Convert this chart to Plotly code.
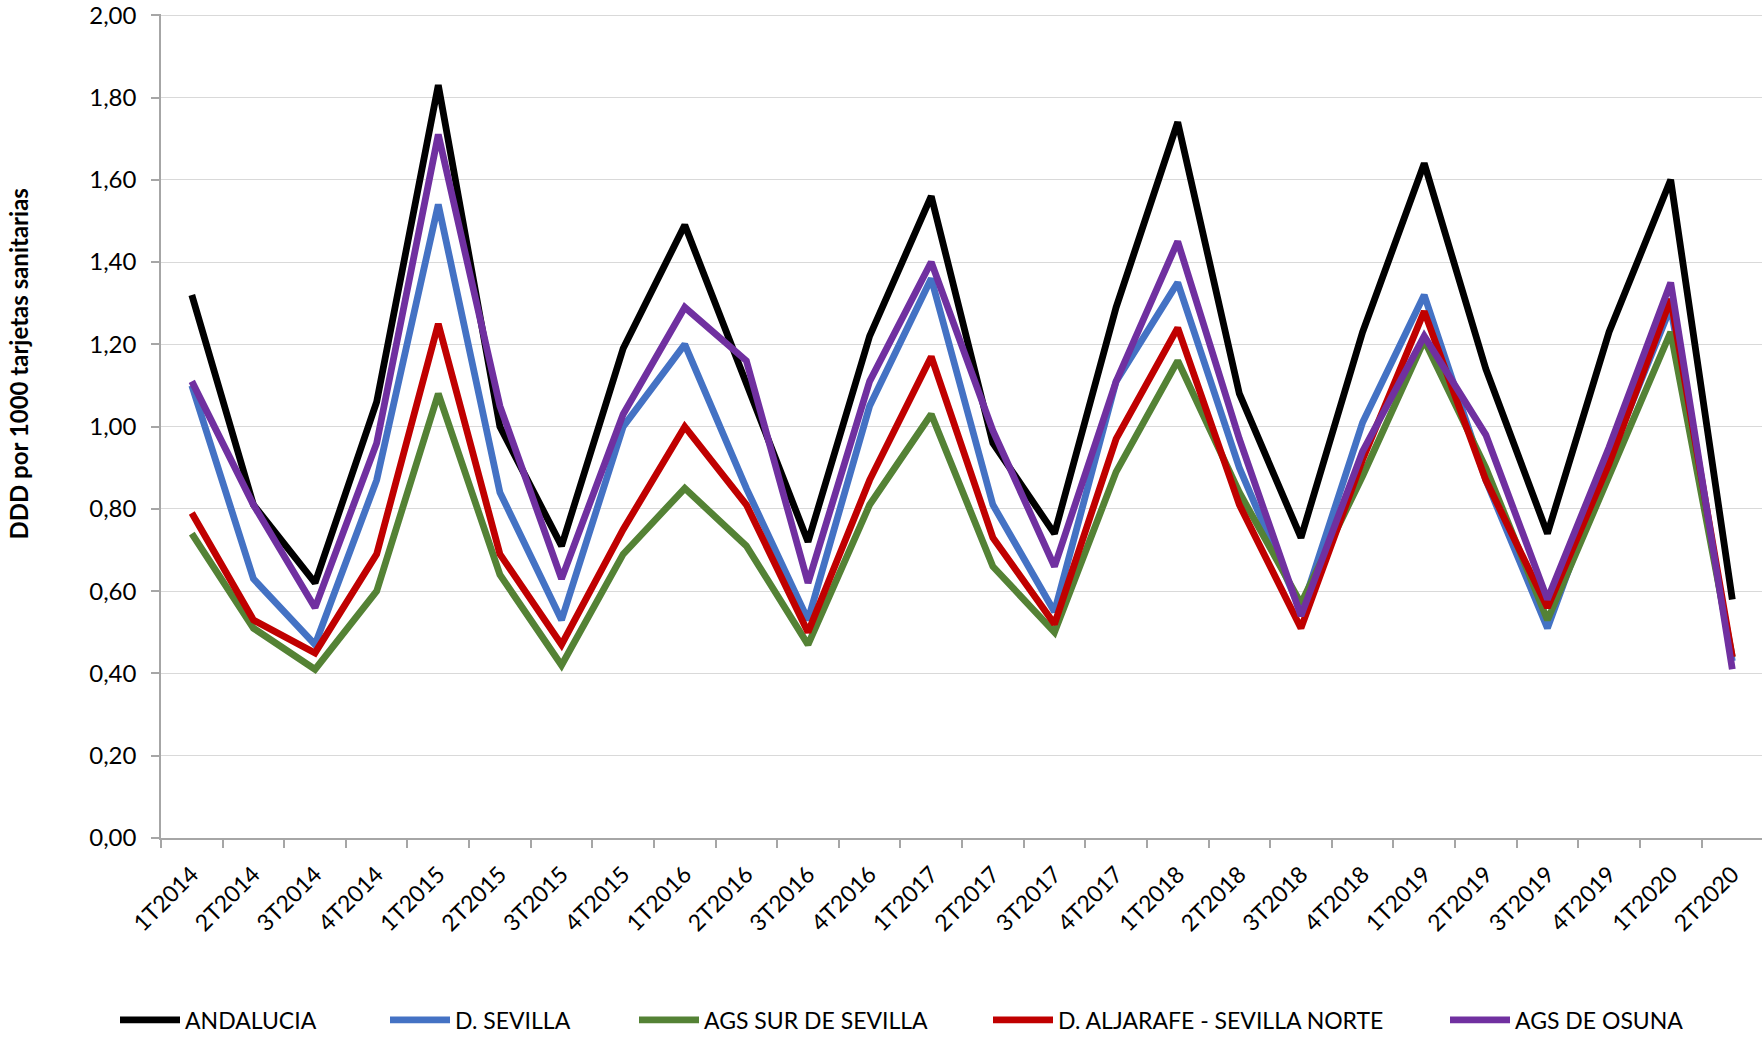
import plotly.graph_objects as go

categories = ["1T2014", "2T2014", "3T2014", "4T2014", "1T2015", "2T2015", "3T2015", "4T2015",
              "1T2016", "2T2016", "3T2016", "4T2016", "1T2017", "2T2017", "3T2017", "4T2017",
              "1T2018", "2T2018", "3T2018", "4T2018", "1T2019", "2T2019", "3T2019", "4T2019",
              "1T2020", "2T2020"]

andalucia = [1.32, 0.81, 0.62, 1.06, 1.83, 1.00, 0.71, 1.19, 1.49, 1.10, 0.72, 1.22, 1.56,
             0.96, 0.74, 1.29, 1.74, 1.08, 0.73, 1.23, 1.64, 1.14, 0.74, 1.23, 1.60, 0.58]
d_sevilla = [1.10, 0.63, 0.47, 0.87, 1.54, 0.84, 0.53, 1.00, 1.20, 0.85, 0.53, 1.05, 1.36,
             0.81, 0.55, 1.11, 1.35, 0.90, 0.55, 1.01, 1.32, 0.87, 0.51, 0.92, 1.29, 0.43]
ags_sur = [0.74, 0.51, 0.41, 0.60, 1.08, 0.64, 0.42, 0.69, 0.85, 0.71, 0.47, 0.81, 1.03,
           0.66, 0.50, 0.89, 1.16, 0.84, 0.57, 0.88, 1.21, 0.90, 0.53, 0.88, 1.23, 0.44]
d_aljarafe = [0.79, 0.53, 0.45, 0.69, 1.25, 0.69, 0.47, 0.75, 1.00, 0.81, 0.50, 0.87, 1.17,
              0.73, 0.52, 0.97, 1.24, 0.81, 0.51, 0.92, 1.28, 0.87, 0.56, 0.91, 1.31, 0.44]
ags_osuna = [1.11, 0.81, 0.56, 0.96, 1.71, 1.05, 0.63, 1.03, 1.29, 1.16, 0.62, 1.11, 1.40,
             0.99, 0.66, 1.11, 1.45, 0.97, 0.54, 0.94, 1.22, 0.98, 0.58, 0.95, 1.35, 0.41]

y_ticks = [0.0, 0.2, 0.4, 0.6, 0.8, 1.0, 1.2, 1.4, 1.6, 1.8, 2.0]
y_tick_labels = ["0,00", "0,20", "0,40", "0,60", "0,80", "1,00", "1,20", "1,40", "1,60", "1,80", "2,00"]

series_names = ["ANDALUCIA", "D. SEVILLA", "AGS SUR DE SEVILLA",
                "D. ALJARAFE - SEVILLA NORTE", "AGS DE OSUNA"]
series_values = [andalucia, d_sevilla, ags_sur, d_aljarafe, ags_osuna]
series_colors = ["#000000", "#4472C4", "#548235", "#C00000", "#7030A0"]

W, H = 1762, 1038
ML, MR, MT, MB = 161, 0, 14, 200
plot_w = W - ML - MR
plot_h = H - MT - MB
cat_px = 61.62  # width of one category in px
x_hi = -0.5 + plot_w / cat_px

# legend item start positions (px, page coords)
legend_px = [115, 385, 634, 988, 1445]
legend_ids = ["legend", "legend2", "legend3", "legend4", "legend5"]
legend_center_y = 1020

FONT = "Lato, Carlito, Calibri, sans-serif"

fig = go.Figure()
for name, vals, col, lid in zip(series_names, series_values, series_colors, legend_ids):
    fig.add_trace(go.Scatter(
        x=categories, y=vals, mode="lines", name=name,
        line=dict(color=col, width=6.8),
        legend=lid, cliponaxis=False,
    ))

layout_legends = {}
for lid, px in zip(legend_ids, legend_px):
    layout_legends[lid] = dict(
        orientation="h", xref="container", yref="container",
        x=px / W, xanchor="left",
        y=1 - legend_center_y / H, yanchor="middle",
        font=dict(family=FONT, size=23, color="#000000"),
        bgcolor="rgba(0,0,0,0)", itemwidth=60,
    )

fig.update_layout(
    width=W, height=H,
    margin=dict(l=ML, r=MR, t=MT, b=MB, autoexpand=False),
    paper_bgcolor="white", plot_bgcolor="white",
    showlegend=True,
    font=dict(family=FONT, color="#000000"),
    xaxis=dict(
        type="category", range=[-0.5, x_hi],
        tickangle=-45, tickson="boundaries", ticks="outside", ticklen=8,
        tickcolor="#a6a6a6", tickwidth=1.5,
        showline=True, linecolor="#a6a6a6", linewidth=1.5,
        showgrid=False, tickfont=dict(family=FONT, size=23, color="#000000"),
        ticklabelstandoff=12,
        automargin=False, fixedrange=True,
    ),
    yaxis=dict(
        range=[0, 2.003], tickmode="array", tickvals=y_ticks, ticktext=y_tick_labels,
        ticks="outside", ticklen=8, tickcolor="#a6a6a6", tickwidth=1.5,
        showline=True, linecolor="#a6a6a6", linewidth=1.5,
        showgrid=True, gridcolor="#d9d9d9", gridwidth=1.3,
        zeroline=False, ticklabeloverflow="allow",
        tickfont=dict(family=FONT, size=24, color="#000000"),
        ticklabelstandoff=10,
        automargin=False, fixedrange=True,
    ),
    annotations=[dict(
        text="<b>DDD por 1000 tarjetas sanitarias</b>",
        textangle=-90, xref="paper", yref="paper",
        x=(17.5 - ML) / plot_w, y=(H - MB - 364) / plot_h,
        xanchor="center", yanchor="middle", showarrow=False,
        font=dict(family=FONT, size=24, color="#000000"),
    )],
    **layout_legends,
)

# remove the browser's default 8px body margin so the figure fills the window exactly
fig.write_html(
    "out.html",
    config={"displayModeBar": False, "staticPlot": False},
    post_script="document.body.style.margin='0';document.body.style.overflow='hidden';",
)
